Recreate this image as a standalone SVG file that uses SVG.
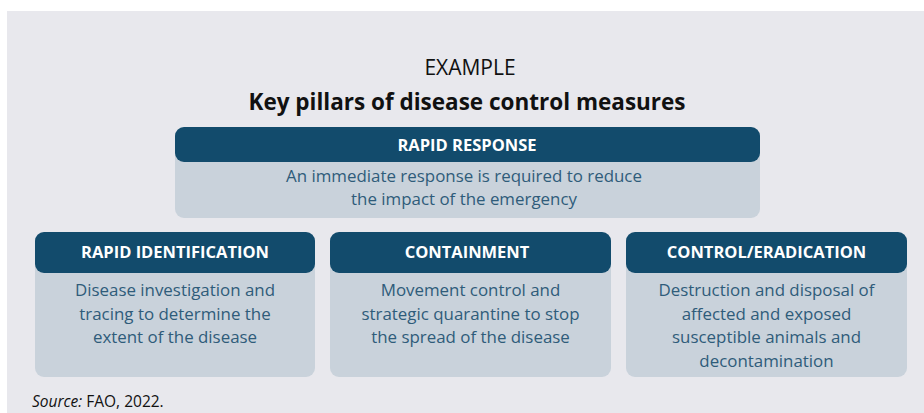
<svg xmlns="http://www.w3.org/2000/svg" width="924" height="413" viewBox="0 0 924 413">
<style>
.hd{fill:#124b6c}
.bd{fill:#c9d2db}
.ht{font-family:"Open Sans","Noto Sans",sans-serif;font-weight:bold;font-size:16.5px;fill:#ffffff;text-anchor:middle}
.bt{font-family:"Open Sans","Noto Sans",sans-serif;font-size:16.9px;fill:#2f5c7a;text-anchor:middle}
</style>
<rect x="0" y="0" width="924" height="413" fill="#ffffff"/>
<rect x="7" y="11" width="917" height="402" fill="#e8e8ed"/>
<text x="470" y="75" font-family="Open Sans, Noto Sans, sans-serif" font-size="21" fill="#111111" text-anchor="middle">EXAMPLE</text>
<text x="467" y="110" font-family="Open Sans, Noto Sans, sans-serif" font-size="22.5" font-weight="bold" fill="#111111" text-anchor="middle">Key pillars of disease control measures</text>
<g id="rapid-response">
<rect class="bd" x="175" y="127" width="585" height="91" rx="9"/>
<rect class="hd" x="175" y="127" width="585" height="35" rx="9"/>
<text class="ht" x="467" y="151">RAPID RESPONSE</text>
<text class="bt" x="464" y="182">An immediate response is required to reduce</text>
<text class="bt" x="464" y="205">the impact of the emergency</text>
</g>
<g id="rapid-identification">
<rect class="bd" x="35" y="232" width="280" height="145" rx="9"/>
<rect class="hd" x="35" y="232" width="280" height="41" rx="9"/>
<text class="ht" x="175" y="258">RAPID IDENTIFICATION</text>
<text class="bt" x="175" y="296">Disease investigation and</text>
<text class="bt" x="175" y="319.5">tracing to determine the</text>
<text class="bt" x="175" y="343">extent of the disease</text>
</g>
<g id="containment">
<rect class="bd" x="330" y="232" width="281" height="145" rx="9"/>
<rect class="hd" x="330" y="232" width="281" height="41" rx="9"/>
<text class="ht" x="467" y="258">CONTAINMENT</text>
<text class="bt" x="470.5" y="296">Movement control and</text>
<text class="bt" x="470.5" y="319.5">strategic quarantine to stop</text>
<text class="bt" x="470.5" y="343">the spread of the disease</text>
</g>
<g id="control-eradication">
<rect class="bd" x="626" y="232" width="281" height="145" rx="9"/>
<rect class="hd" x="626" y="232" width="281" height="41" rx="9"/>
<text class="ht" x="766.5" y="258">CONTROL/ERADICATION</text>
<text class="bt" x="766.5" y="296">Destruction and disposal of</text>
<text class="bt" x="766.5" y="319.5">affected and exposed</text>
<text class="bt" x="766.5" y="343">susceptible animals and</text>
<text class="bt" x="766.5" y="366.5">decontamination</text>
</g>
<g id="connectors"/>
<text x="32" y="407" font-family="Open Sans, Noto Sans, sans-serif" font-size="15.5" fill="#111111"><tspan font-style="italic">Source:</tspan> FAO, 2022.</text>
</svg>
